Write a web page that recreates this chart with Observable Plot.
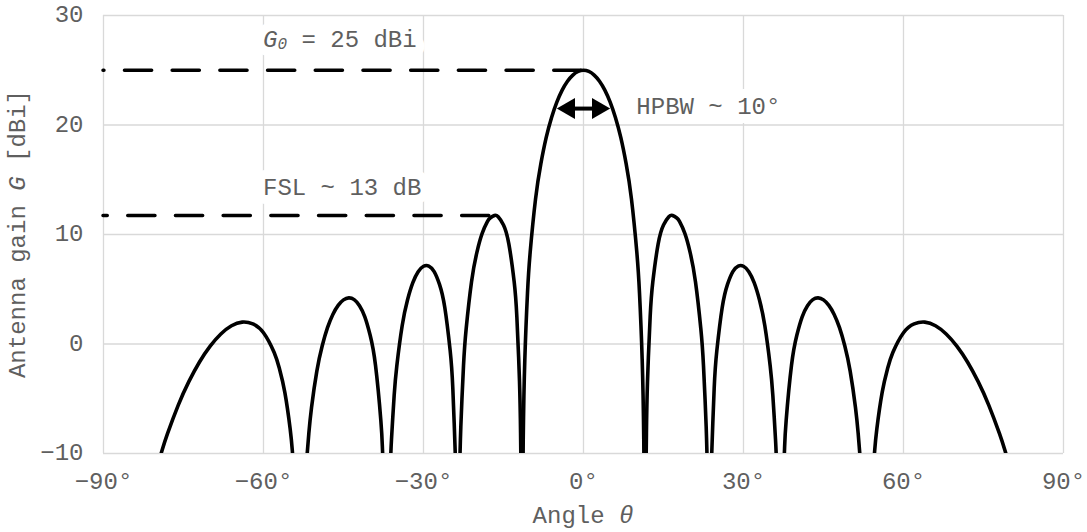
<!DOCTYPE html>
<html>
<head>
<meta charset="utf-8">
<script src="https://cdn.jsdelivr.net/npm/d3@7"></script>
<script src="https://cdn.jsdelivr.net/npm/@observablehq/plot@0.6"></script>
<style>
  html, body { margin: 0; padding: 0; background: #fff; }
  #chart svg { display: block; }
</style>
</head>
<body>
<div id="chart"></div>
<script>
// Axis ticks
const xTicks = [-90, -60, -30, 0, 30, 60, 90];
const yTicks = [-10, 0, 10, 20, 30];

// Radiation pattern, one lobe per array: [angle θ (deg), gain G (dBi)].
// Points just below −10 dBi continue each lobe into its null and are clipped by the frame.
const sidelobe4L = [[-80,-11.32],[-79,-9.68],[-78,-8.19],[-76,-5.60],[-74,-3.44],[-72,-1.64],[-70,-0.19],[-68,0.92],[-66,1.67],[-64,2.00],[-62,1.84],[-60,1.03],[-58,-0.78],[-57,-2.27],[-56,-4.42],[-55,-7.76],[-54.6,-9.71],[-54.3,-11.60]];
const sidelobe3L = [[-52,-11.41],[-51.8,-9.97],[-51.5,-8.17],[-51,-5.82],[-50,-2.48],[-49,-0.18],[-48,1.49],[-47,2.70],[-46,3.53],[-45,4.03],[-44,4.21],[-43,4.05],[-42,3.50],[-41,2.48],[-40,0.80],[-39,-1.94],[-38,-6.98],[-37.7,-9.54],[-37.5,-11.87]];
const sidelobe2L = [[-36.2,-11.00],[-36,-8.70],[-35.5,-4.70],[-35,-1.98],[-34,1.66],[-33,4.02],[-32,5.60],[-31,6.60],[-30,7.10],[-29,7.12],[-28,6.61],[-27,5.44],[-26,3.31],[-25,-0.61],[-24.5,-4.09],[-24,-10.63],[-23.9,-12.94]];
const sidelobe1L = [[-23.2,-11.27],[-23,-7.53],[-22.5,-2.00],[-22,1.39],[-21,5.67],[-20,8.35],[-19,10.10],[-18,11.19],[-17.5,11.51],[-16.7,11.74],[-16,11.62],[-15,10.86],[-14,9.14],[-13,5.68],[-12.5,2.51],[-12,-3.41],[-11.8,-8.16],[-11.7,-12.24]];
const mainLobe   = [[-11.45,-17.50],[-11.3,-8.69],[-11,-1.38],[-10.5,4.66],[-10,8.37],[-9,13.21],[-8,16.45],[-7,18.84],[-6,20.67],[-5,22.09],[-4,23.19],[-3,24.00],[-2,24.56],[-1,24.89],[0,25],[1,24.89],[2,24.56],[3,24.00],[4,23.19],[5,22.09],[6,20.67],[7,18.84],[8,16.45],[9,13.21],[10,8.37],[10.5,4.66],[11,-1.38],[11.3,-8.69],[11.45,-17.50]];
const sidelobe1R = [[11.7,-12.24],[11.8,-8.16],[12,-3.41],[12.5,2.51],[13,5.68],[14,9.14],[15,10.86],[16,11.62],[16.7,11.74],[17.5,11.51],[18,11.19],[19,10.10],[20,8.35],[21,5.67],[22,1.39],[22.5,-2.00],[23,-7.53],[23.2,-11.27]];
const sidelobe2R = [[23.9,-12.94],[24,-10.63],[24.5,-4.09],[25,-0.61],[26,3.31],[27,5.44],[28,6.61],[29,7.12],[30,7.10],[31,6.60],[32,5.60],[33,4.02],[34,1.66],[35,-1.98],[35.5,-4.70],[36,-8.70],[36.2,-11.00]];
const sidelobe3R = [[37.5,-11.87],[37.7,-9.54],[38,-6.98],[39,-1.94],[40,0.80],[41,2.48],[42,3.50],[43,4.05],[44,4.21],[45,4.03],[46,3.53],[47,2.70],[48,1.49],[49,-0.18],[50,-2.48],[51,-5.82],[51.5,-8.17],[51.8,-9.97],[52,-11.41]];
const sidelobe4R = [[54.3,-11.60],[54.6,-9.71],[55,-7.76],[56,-4.42],[57,-2.27],[58,-0.78],[60,1.03],[62,1.84],[64,2.00],[66,1.67],[68,0.92],[70,-0.19],[72,-1.64],[74,-3.44],[76,-5.60],[78,-8.19],[79,-9.68],[80,-11.32]];

// Half-power beamwidth (deg) and the level at which its arrow is drawn (dBi)
const hpbwDeg = 10;
const hpbwLevel = 21.5;

const FONT = "'Liberation Mono', 'Courier New', monospace";
const TEXT_GRAY = "#5f5f5f";
const GRID_GRAY = "#d9d9d9";
const W = 1087, H = 532;

const lobeTable = [
  ["L4", sidelobe4L], ["L3", sidelobe3L], ["L2", sidelobe2L], ["L1", sidelobe1L],
  ["main", mainLobe],
  ["R1", sidelobe1R], ["R2", sidelobe2R], ["R3", sidelobe3R], ["R4", sidelobe4R]
].flatMap(([lobe, pts]) => pts.map(([angle, gain]) => ({lobe, angle, gain})));

// Peak gain and first side lobe, used for the dashed reference levels and their labels
const g0 = d3.max(mainLobe, d => d[1]);
const [fslAngle, fslGain] = d3.greatest(sidelobe1L, d => d[1]);

const refLines = [
  {gain: g0, x1: -90, x2: 0, phase: 26.25},
  {gain: fslGain, x1: -90, x2: fslAngle, phase: 22.95}
];

const signed = d => (d < 0 ? "\u2212" : "") + Math.abs(d);

const plot = Plot.plot({
  width: W,
  height: H,
  marginLeft: 103,
  marginRight: 24,
  marginTop: 15,
  marginBottom: 79,
  style: {fontFamily: FONT, fontSize: "24px", color: TEXT_GRAY, background: "white", overflow: "visible"},
  x: {domain: [-90, 90]},
  y: {domain: [-10, 30]},
  marks: [
    Plot.gridX(xTicks, {stroke: GRID_GRAY, strokeOpacity: 1, strokeWidth: 1.3}),
    Plot.gridY(yTicks, {stroke: GRID_GRAY, strokeOpacity: 1, strokeWidth: 1.3}),
    Plot.axisX(xTicks, {tickSize: 0, tickPadding: 18, tickFormat: d => signed(d) + "°", label: null}),
    Plot.axisY(yTicks, {tickSize: 0, tickPadding: 20, tickFormat: signed, label: null, dy: -1}),
    Plot.line(lobeTable, {
      x: "angle", y: "gain", z: "lobe", curve: "natural",
      stroke: "black", strokeWidth: 3.6, strokeLinejoin: "round", clip: true
    }),
    ...refLines.map(r => Plot.ruleY([r], {
      y: "gain", x1: "x1", x2: "x2",
      stroke: "black", strokeWidth: 3.5, strokeLinecap: "round",
      strokeDasharray: "27.2,20.5", strokeDashoffset: r.phase
    })),
    // HPBW double arrow: shaft plus two filled heads
    Plot.ruleY([{y: hpbwLevel, x1: -hpbwDeg / 2, x2: hpbwDeg / 2}], {
      y: "y", x1: "x1", x2: "x2", insetLeft: 12, insetRight: 12,
      stroke: "black", strokeWidth: 4
    }),
    Plot.dot([{x: -hpbwDeg / 2, y: hpbwLevel}], {
      x: "x", y: "y", symbol: "triangle", r: 7.8, rotate: -90, dx: 12.1, fill: "black", stroke: null
    }),
    Plot.dot([{x: hpbwDeg / 2, y: hpbwLevel}], {
      x: "x", y: "y", symbol: "triangle", r: 7.8, rotate: 90, dx: -12.1, fill: "black", stroke: null
    })
  ]
});

document.getElementById("chart").append(plot);

// Annotations and axis titles with italic symbols
const svg = d3.select(plot);
const sx = plot.scale("x"), sy = plot.scale("y");

const notes = [
  {angle: -60, gain: 27.1, parts: [{t: "G", italic: true}, {t: "0", italic: true, sub: true}, {t: ` = ${g0} dBi`}]},
  {angle: 10, gain: 21.0, parts: [{t: `HPBW ~ ${hpbwDeg}°`}]},
  {angle: -60, gain: 13.6, parts: [{t: `FSL ~ ${Math.round(g0 - fslGain)} dB`}]}
];

function writeParts(text, parts) {
  parts.forEach((p, i) => {
    const ts = text.append("tspan").text(p.t);
    if (p.italic) ts.attr("font-style", "italic");
    if (p.sub) ts.attr("font-size", 16).attr("dy", 2);
    else if (i > 0 && parts[i - 1].sub) ts.attr("dy", -2);
  });
}

// White knock-out behind each note (hides the grid under the label), then the label itself
const noteLayer = svg.insert("g", 'g[aria-label="line"]')
  .attr("font-family", FONT).attr("font-size", 24).attr("text-anchor", "start");

for (const pass of ["halo", "text"]) {
  const g = noteLayer.append("g");
  if (pass === "halo") {
    g.attr("fill", "white").attr("stroke", "white").attr("stroke-width", 18).attr("stroke-linejoin", "round");
  } else {
    g.attr("fill", TEXT_GRAY);
  }
  for (const n of notes) {
    const t = g.append("text")
      .attr("x", sx.apply(n.angle)).attr("y", sy.apply(n.gain))
      .style("white-space", "pre");
    writeParts(t, n.parts);
  }
}

const titles = svg.append("g")
  .attr("font-family", FONT).attr("font-size", 24).attr("fill", TEXT_GRAY)
  .attr("text-anchor", "middle");

const xTitle = titles.append("text")
  .attr("x", sx.apply(0)).attr("y", sy.apply(-10) + 69.7)
  .style("white-space", "pre");
writeParts(xTitle, [{t: "Angle "}, {t: "\u03B8", italic: true}]);

const yTitle = titles.append("text")
  .attr("transform", `translate(25,${(sy.apply(30) + sy.apply(-10)) / 2}) rotate(-90)`)
  .style("white-space", "pre");
writeParts(yTitle, [{t: "Antenna gain "}, {t: "G", italic: true}, {t: " [dBi]"}]);
</script>
</body>
</html>
